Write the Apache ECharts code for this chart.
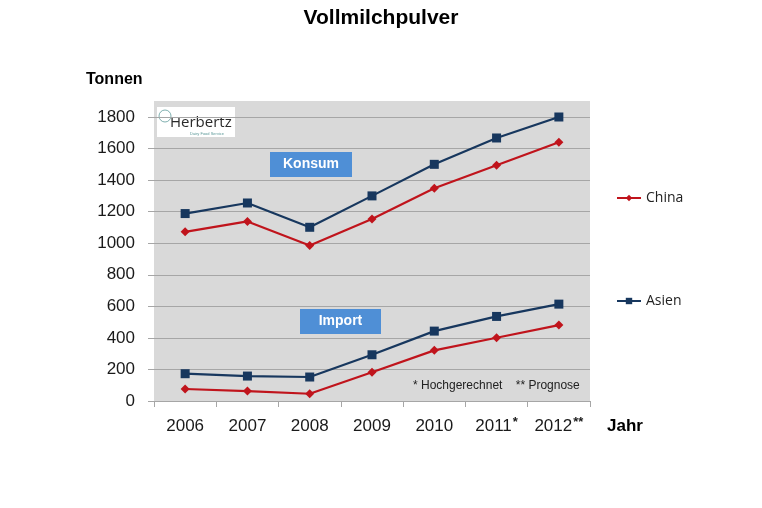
<!DOCTYPE html>
<html>
<head>
<meta charset="utf-8">
<script src="https://cdn.jsdelivr.net/npm/echarts@6/dist/echarts.min.js"></script>
<style>
  html, body { margin: 0; padding: 0; background: #fff; }
  #chart { width: 762px; height: 508px; }
</style>
</head>
<body>
<div id="chart"></div>
<script>
// years on the x axis (stars mark estimate / forecast)
const years = ['2006', '2007', '2008', '2009', '2010', '2011*', '2012**'];

// consumption (Konsum), tonnes
const asienKonsum = [1188, 1255, 1101, 1300, 1500, 1667, 1800];
const chinaKonsum = [1072, 1138, 986, 1154, 1349, 1494, 1640];

// imports, tonnes
const asienImport = [173, 158, 152, 293, 443, 536, 614];
const chinaImport = [76, 63, 46, 182, 321, 401, 481];

const RED = '#c0141c';
const NAVY = '#17375e';
const FONT = '"Liberation Sans", Arial, sans-serif';

const chart = echarts.init(document.getElementById('chart'));

function lineSeries(name, data, color, symbol, size) {
  return {
    name: name,
    type: 'line',
    data: data,
    symbol: symbol,
    symbolSize: size,
    z: 5,
    lineStyle: { color: color, width: 2.2 },
    itemStyle: { color: color },
    emphasis: { disabled: true },
  };
}

const legendText = { fontFamily: '"Open Sans", sans-serif', fontSize: 14, color: '#222' };

chart.setOption({
  animation: false,
  backgroundColor: '#fff',
  title: {
    text: 'Vollmilchpulver',
    left: 'center',
    top: 3,
    textStyle: { fontFamily: FONT, fontSize: 21, fontWeight: 'bold', color: '#000' },
  },
  legend: [
    {
      data: ['China'],
      left: 611, top: 186,
      itemWidth: 24, itemHeight: 8, itemGap: 4,
      textStyle: legendText,
    },
    {
      data: ['Asien'],
      left: 611, top: 289,
      itemWidth: 24, itemHeight: 8, itemGap: 4,
      textStyle: legendText,
    },
  ],
  grid: { left: 154, right: 172, top: 117, bottom: 107 },
  xAxis: {
    type: 'category',
    data: years,
    boundaryGap: true,
    axisLine: { lineStyle: { color: '#a6a6a6', width: 1 } },
    axisTick: { show: true, length: 6, lineStyle: { color: '#a6a6a6' } },
    axisLabel: {
      interval: 0,
      margin: 15,
      formatter: function (v) {
        const m = v.match(/^(\d+)(\**)$/);
        return '{a|' + m[1] + '}' + (m[2] ? '{s|' + m[2] + '}' : '');
      },
      rich: {
        a: { fontFamily: FONT, fontSize: 17, color: '#1a1a1a', lineHeight: 20 },
        s: { fontFamily: FONT, fontSize: 13, fontWeight: 'bold', color: '#1a1a1a', lineHeight: 8, verticalAlign: 'top', padding: [0, 0, 0, 1] },
      },
    },
  },
  yAxis: {
    type: 'value',
    min: 0,
    max: 1800,
    interval: 200,
    axisLine: { show: false },
    axisTick: { show: true, length: 6, lineStyle: { color: '#a6a6a6' } },
    splitLine: { lineStyle: { color: '#a6a6a6', width: 1 } },
    axisLabel: {
      margin: 19, fontFamily: FONT, fontSize: 17, color: '#1a1a1a',
      formatter: function (v) { return String(v); },
    },
  },
  graphic: [
    // gray plot background (extends a little above the top grid line)
    { type: 'rect', z: -10, shape: { x: 154, y: 101, width: 436, height: 300 }, style: { fill: '#d9d9d9' } },
    { type: 'text', left: 86, top: 72, style: { text: 'Tonnen', font: 'bold 16px ' + FONT, fill: '#000' } },
    { type: 'text', left: 607, top: 418, style: { text: 'Jahr', font: 'bold 17px ' + FONT, fill: '#000' } },
    // logo
    { type: 'rect', shape: { x: 157, y: 107, width: 78, height: 30 }, style: { fill: '#fff' } },
    { type: 'circle', shape: { cx: 165, cy: 116, r: 6 }, style: { fill: 'none', stroke: '#5e9a9a', lineWidth: 0.8 } },
    { type: 'text', left: 170, top: 115, style: { text: 'Herbertz', font: '15px "Open Sans", sans-serif', fill: '#2a2a2a' } },
    { type: 'text', left: 190, top: 132, style: { text: 'Dairy Food Service', font: '4px ' + FONT, fill: '#5e9a9a' } },
    // labels
    { type: 'rect', shape: { x: 270, y: 152, width: 82, height: 25 }, style: { fill: '#4f8fd6' } },
    { type: 'text', x: 311, y: 164.5, style: { text: 'Konsum', font: 'bold 14px ' + FONT, fill: '#fff', align: 'center', verticalAlign: 'middle' } },
    { type: 'rect', shape: { x: 300, y: 309, width: 81, height: 25 }, style: { fill: '#4f8fd6' } },
    { type: 'text', x: 340.5, y: 321.5, style: { text: 'Import', font: 'bold 14px ' + FONT, fill: '#fff', align: 'center', verticalAlign: 'middle' } },
    { type: 'text', left: 413, top: 380, style: { text: '* Hochgerechnet    ** Prognose', font: '12px ' + FONT, fill: '#222' } },
  ],
  series: [
    lineSeries('Asien', asienKonsum, NAVY, 'rect', 9),
    lineSeries('China', chinaKonsum, RED, 'diamond', 9),
    lineSeries('Asien', asienImport, NAVY, 'rect', 9),
    lineSeries('China', chinaImport, RED, 'diamond', 9),
  ],
});
</script>
</body>
</html>
